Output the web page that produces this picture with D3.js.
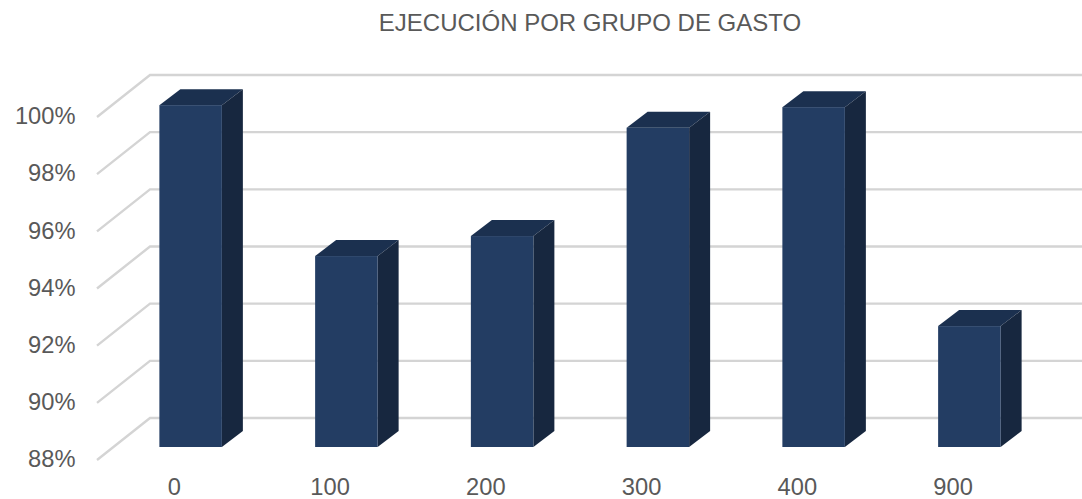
<!DOCTYPE html>
<html><head><meta charset="utf-8">
<script src="https://cdn.jsdelivr.net/npm/d3@7"></script>
<style>html,body{margin:0;padding:0;background:#fff;overflow:hidden}
svg{display:block}text{font-family:"Liberation Sans",Arial,sans-serif;fill:#595959}</style></head>
<body><svg id="c" width="1082" height="499"></svg>
<script>
const title = "EJECUCIÓN POR GRUPO DE GASTO";
const categories = ["0","100","200","300","400","900"];
const values = [99.96,94.68,95.38,99.17,99.89,92.23];
const yTicks = [88,90,92,94,96,98,100];

const svg = d3.select("#c");
const W=1082;
const y = d3.scaleLinear().domain([88,100]).range([459,116]);
const x = d3.scaleBand().domain(categories).range([97,1031.5]).paddingInner(0).paddingOuter(0);
const barW=62.5, barDX=21, barDY=16;
const floorDX=53, floorDY=41;
const frontDY=12;
const barLeft=c=>x(c)+x.bandwidth()/2-15.5;

svg.append("text").attr("x",590).attr("y",31).attr("text-anchor","middle")
  .attr("font-size",24).text(title);

const grid=svg.append("g").attr("fill","none").attr("stroke","#d4d4d4").attr("stroke-width",2.4);
grid.selectAll("path").data(yTicks).join("path")
  .attr("d",t=>`M97,${y(t)+1}L150,${y(t)-floorDY}H${W}`);

const axL=svg.append("g").attr("transform","translate(83.5,-0.5)")
  .call(d3.axisLeft(y).tickValues(yTicks).tickFormat(d=>d+"%").tickSize(0).tickPadding(8));
axL.select(".domain").remove();
axL.selectAll("text").attr("font-size",23.7).attr("dy","0.35em").style("font-family",'"Liberation Sans"').attr("fill","#595959");

const axB=svg.append("g").attr("transform","translate(-0.5,478)")
  .call(d3.axisBottom(x).tickSize(0).tickPadding(0));
axB.select(".domain").remove();
axB.selectAll("text").attr("font-size",23.7).attr("dy","0.71em").style("font-family",'"Liberation Sans"').attr("fill","#595959");

const bars=svg.append("g").selectAll("g").data(categories.map((c,i)=>({c,v:values[i]}))).join("g");
const fy=v=>y(v)-frontDY;
bars.append("path").attr("fill","#1b304f")
  .attr("d",d=>{const l=barLeft(d.c),t=fy(d.v);return `M${l},${t}l${barDX},${-barDY}h${barW}l${-barDX},${barDY}Z`;});
bars.append("path").attr("fill","#17273f")
  .attr("d",d=>{const r=barLeft(d.c)+barW,t=fy(d.v),b=fy(88);return `M${r},${t}l${barDX},${-barDY}V${b-barDY}l${-barDX},${barDY}Z`;});
bars.append("rect").attr("fill","#233d63")
  .attr("x",d=>barLeft(d.c)).attr("y",d=>fy(d.v)).attr("width",barW).attr("height",d=>fy(88)-fy(d.v));
</script></body></html>
